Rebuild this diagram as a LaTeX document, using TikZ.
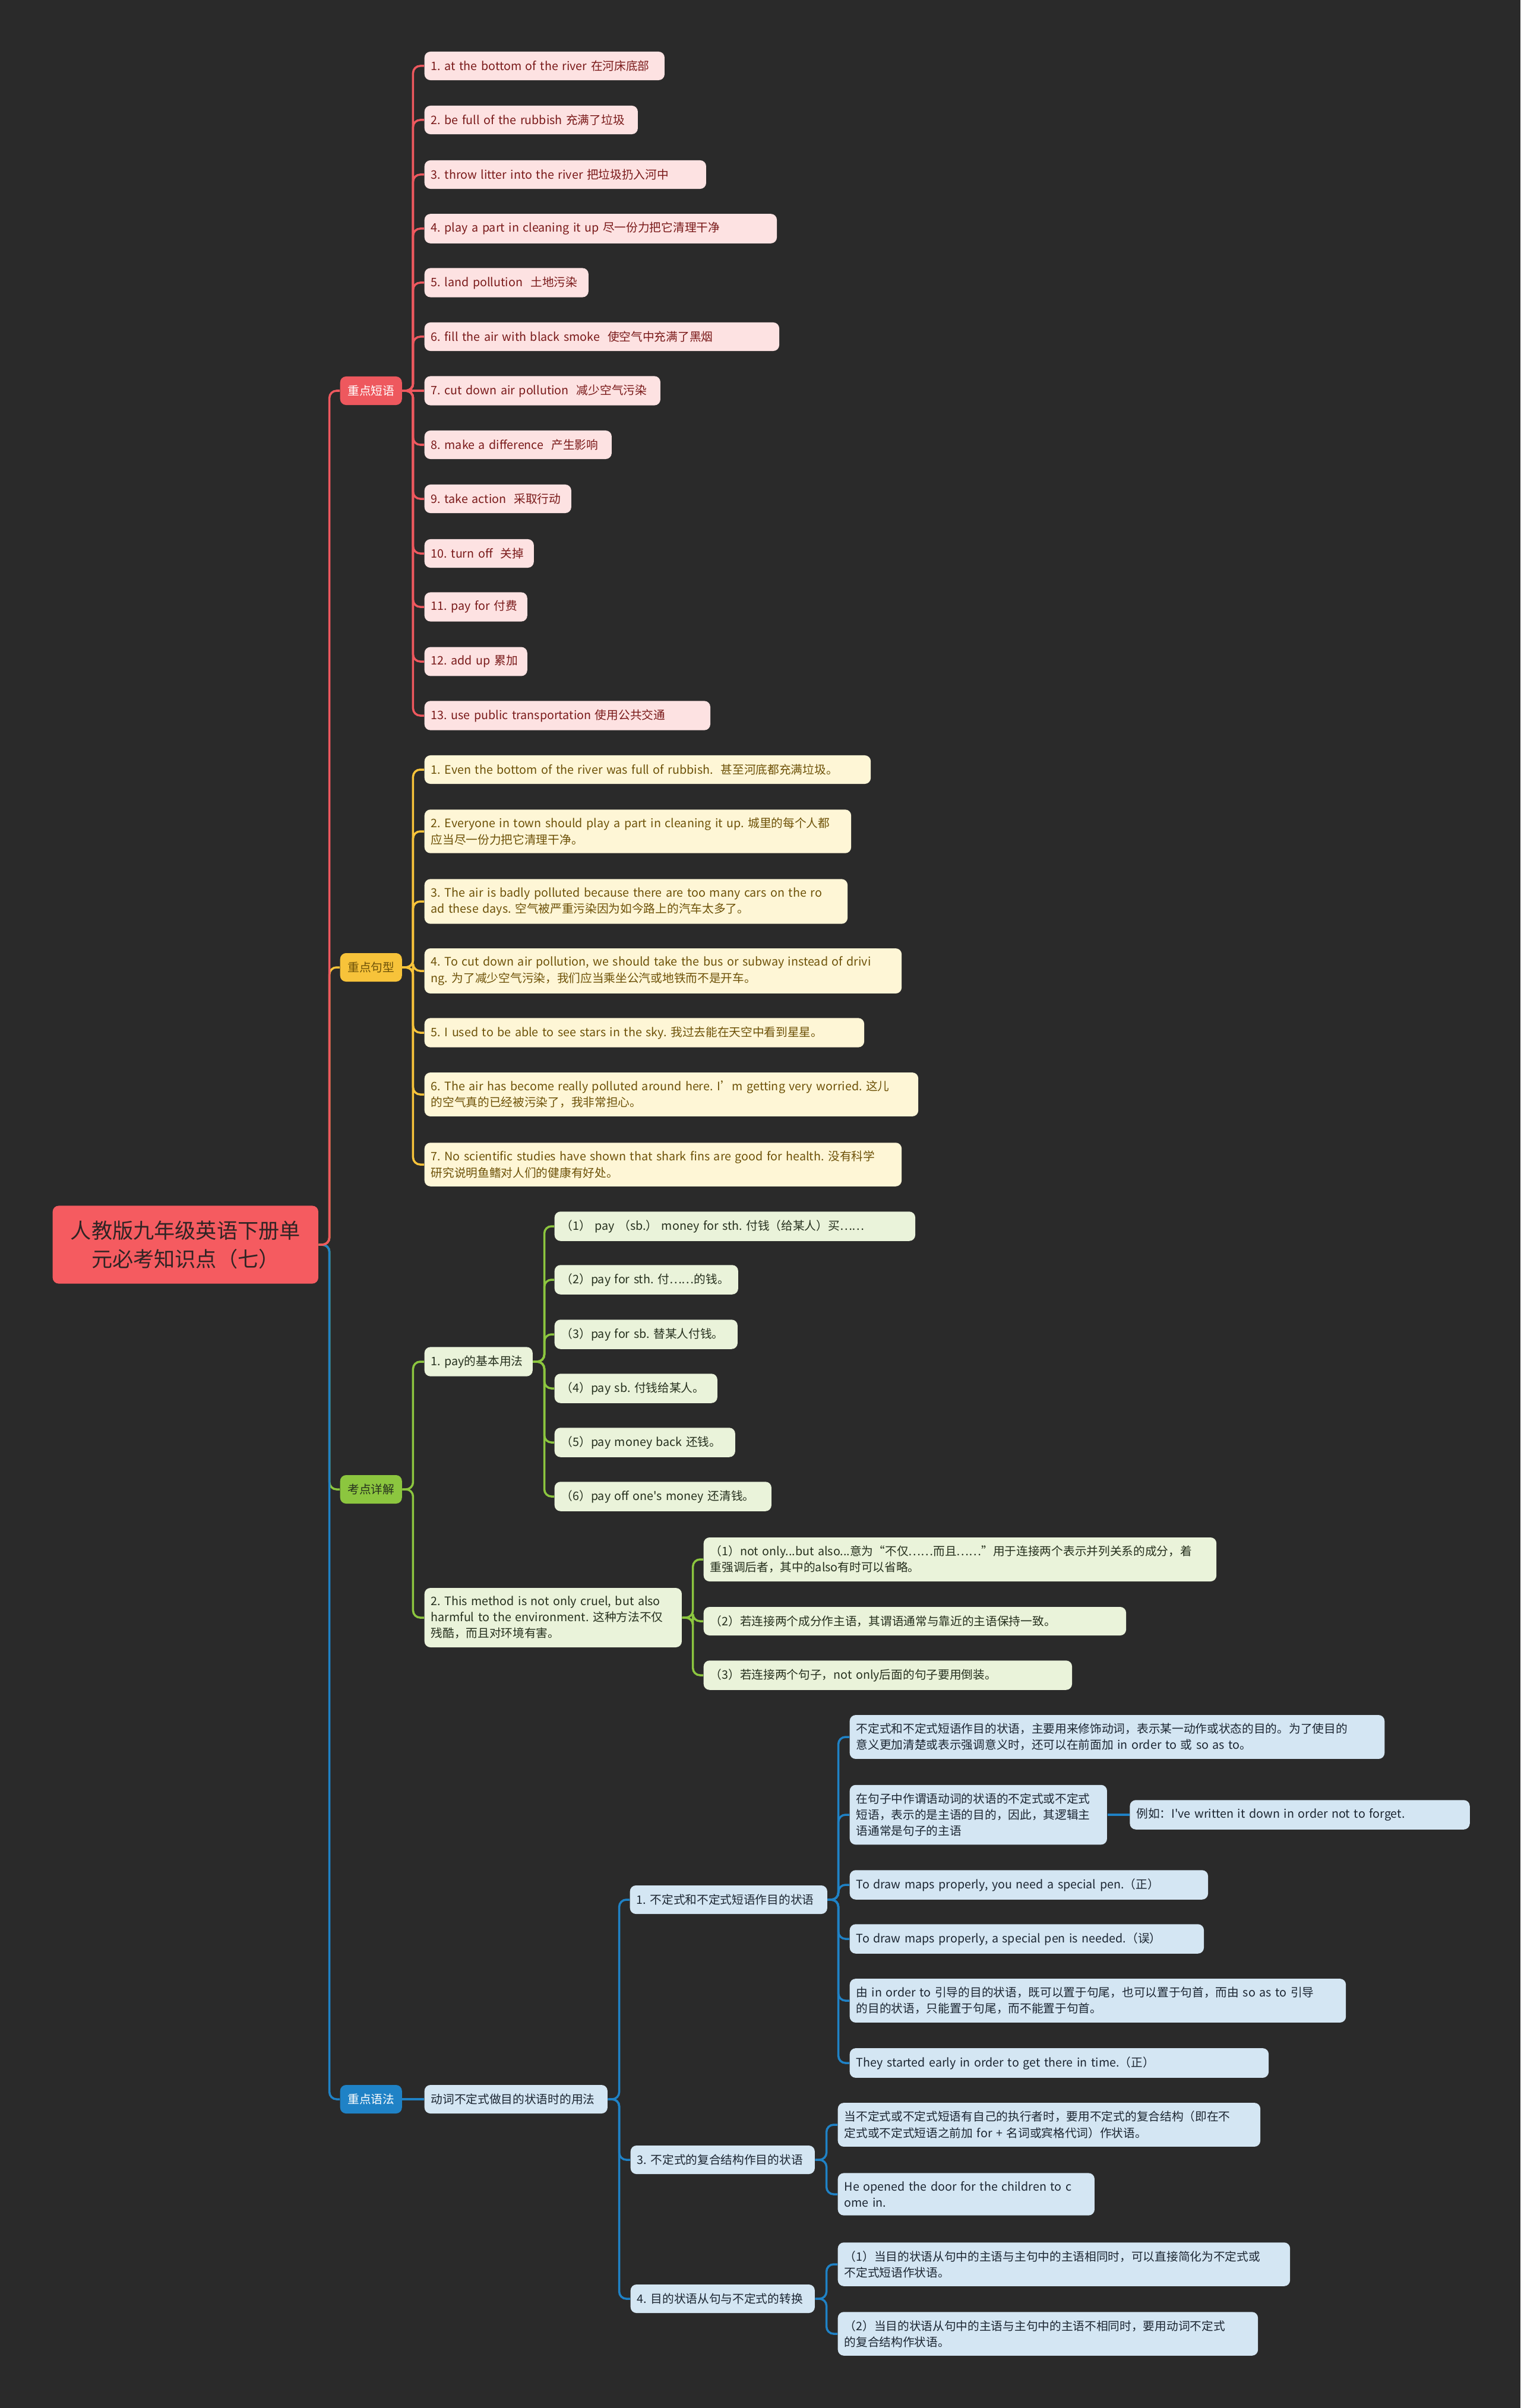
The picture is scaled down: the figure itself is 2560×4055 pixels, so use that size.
\documentclass[tikz,border=0pt]{standalone}
\usepackage{fontspec}
\setmainfont{Noto Sans CJK SC}
\newfontfamily\cjk{Noto Sans CJK SC}
\usepackage{tikz}
\usetikzlibrary{positioning}
\usepackage{xcolor}
\definecolor{bg}{RGB}{42,42,42}
\definecolor{rootred}{RGB}{245,91,96}
\definecolor{roottext}{RGB}{48,36,36}
\definecolor{phr}{RGB}{238,88,94}
\definecolor{sen}{RGB}{247,195,58}
\definecolor{pnt}{RGB}{140,198,63}
\definecolor{gram}{RGB}{31,130,198}
\definecolor{phrfill}{RGB}{253,226,226}
\definecolor{phrtext}{RGB}{122,26,26}
\definecolor{senfill}{RGB}{254,246,214}
\definecolor{sentext}{RGB}{110,82,8}
\definecolor{pntfill}{RGB}{234,243,218}
\definecolor{pnttext}{RGB}{38,48,30}
\definecolor{gramfill}{RGB}{212,230,243}
\definecolor{gramtext}{RGB}{28,38,50}

\begin{document}
\frenchspacing
\begin{tikzpicture}[x=0.01cm, y=-0.01cm,
  root/.style={fill=rootred, text=roottext, rounded corners=0.1cm, align=center,
    font=\cjk\fontsize{10}{13.7}\selectfont, minimum width=4.47cm, minimum height=1.31cm, anchor=west},
  topic/.style={rounded corners=0.1cm, font=\cjk\fontsize{5.6}{7.7}\selectfont,
    minimum width=1.04cm, minimum height=0.48cm, inner sep=0pt, anchor=west},
  leaf/.style={rounded corners=0.1cm, font=\cjk\fontsize{5.6}{7.7}\selectfont, align=left,
    inner xsep=0.11cm, inner ysep=0.14cm, minimum height=0.48cm, anchor=west},
  red/.style={leaf, fill=phrfill, text=phrtext},
  yel/.style={leaf, fill=senfill, text=sentext},
  grn/.style={leaf, fill=pntfill, text=pnttext},
  blu/.style={leaf, fill=gramfill, text=gramtext},
  link/.style={line width=0.035cm, rounded corners=0.12cm}]

\fill[bg] (0,0) rectangle (2560,4055);
\useasboundingbox (0,0) rectangle (2560,4055);

\node[root] (root) at (88,2096) {人教版九年级英语下册单\\元必考知识点（七）};

% branches
\node[topic, fill=phr, text=white] (phrases) at (572,658) {重点短语};
\node[topic, fill=sen, text=sentext] (sentences) at (572,1629) {重点句型};
\node[topic, fill=pnt, text=pnttext] (points) at (572,2508) {考点详解};
\node[topic, fill=gram, text=white] (grammar) at (572,3535) {重点语法};

% 重点短语
\node[red, text width=3.82cm] (ph1) at (714,111) {1. at the bottom of the river 在河床底部};
\node[red, text width=3.37cm] (ph2) at (714,202) {2. be full of the rubbish 充满了垃圾};
\node[red, text width=4.52cm] (ph3) at (714,294) {3. throw litter into the river 把垃圾扔入河中};
\node[red, text width=5.71cm] (ph4) at (714,385) {4. play a part in cleaning it up 尽一份力把它清理干净};
\node[red, text width=2.54cm] (ph5) at (714,476) {5. land pollution~~土地污染};
\node[red, text width=5.75cm] (ph6) at (714,567) {6. fill the air with black smoke~~使空气中充满了黑烟};
\node[red, text width=3.75cm] (ph7) at (714,658) {7. cut down air pollution~~减少空气污染};
\node[red, text width=2.93cm] (ph8) at (714,749) {8. make a difference~~产生影响};
\node[red, text width=2.25cm] (ph9) at (714,840) {9. take action~~采取行动};
\node[red, text width=1.62cm] (ph10) at (714,932) {10. turn off~~关掉};
\node[red, text width=1.51cm] (ph11) at (714,1022) {11. pay for 付费};
\node[red, text width=1.51cm] (ph12) at (714,1114) {12. add up 累加};
\node[red, text width=4.59cm] (ph13) at (714,1205) {13. use public transportation 使用公共交通};

% 重点句型
\node[yel, text width=7.29cm] (se1) at (714,1296) {1. Even the bottom of the river was full of rubbish.~~甚至河底都充满垃圾。};
\node[yel, text width=6.96cm] (se2) at (714,1400) {2. Everyone in town should play a part in cleaning it up. 城里的每个人都\\应当尽一份力把它清理干净。};
\node[yel, text width=6.90cm] (se3) at (714,1518) {3. The air is badly polluted because there are too many cars on the ro\\ad these days. 空气被严重污染因为如今路上的汽车太多了。};
\node[yel, text width=7.81cm] (se4) at (714,1635) {4. To cut down air pollution, we should take the bus or subway instead of drivi\\ng. 为了减少空气污染，我们应当乘坐公汽或地铁而不是开车。};
\node[yel, text width=7.18cm] (se5) at (714,1739) {5. I used to be able to see stars in the sky. 我过去能在天空中看到星星。};
\node[yel, text width=8.09cm] (se6) at (714,1843) {6. The air has become really polluted around here. I’m getting very worried. 这儿\\的空气真的已经被污染了，我非常担心。};
\node[yel, text width=7.81cm] (se7) at (714,1961) {7. No scientific studies have shown that shark fins are good for health. 没有科学\\研究说明鱼鳍对人们的健康有好处。};

% 考点详解
\node[grn, text width=1.60cm] (pay) at (714,2293) {1. pay的基本用法};
\node[grn, text width=5.85cm] (pay1) at (933,2065) {（1） pay （sb.） money for sth. 付钱（给某人）买……};
\node[grn, text width=2.87cm] (pay2) at (933,2155) {（2）pay for sth.~付……的钱。};
\node[grn, text width=2.86cm] (pay3) at (933,2247) {（3）pay for sb. 替某人付钱。};
\node[grn, text width=2.52cm] (pay4) at (933,2338) {（4）pay sb. 付钱给某人。};
\node[grn, text width=2.82cm] (pay5) at (933,2429) {（5）pay money back 还钱。};
\node[grn, text width=3.43cm] (pay6) at (933,2520) {（6）pay off one's money 还清钱。};
\node[grn, text width=4.11cm] (meth) at (714,2724) {2. This method is not only cruel, but also\\harmful to the environment. 这种方法不仅\\残酷，而且对环境有害。};
\node[grn, text width=8.41cm] (meth1) at (1184,2626) {（1）not only...but also...意为“不仅……而且……”用于连接两个表示并列关系的成分，着\\重强调后者，其中的also有时可以省略。};
\node[grn, text width=6.89cm] (meth2) at (1184,2730) {（2）若连接两个成分作主语，其谓语通常与靠近的主语保持一致。};
\node[grn, text width=5.98cm] (meth3) at (1184,2821) {（3）若连接两个句子，not only后面的句子要用倒装。};

% 重点语法
\node[blu, text width=2.86cm] (usage) at (714,3535) {动词不定式做目的状语时的用法};
\node[blu, text width=3.10cm] (inf) at (1060,3199) {1. 不定式和不定式短语作目的状语};
\node[blu, text width=8.78cm] (inf1) at (1430,2925) {不定式和不定式短语作目的状语，主要用来修饰动词，表示某一动作或状态的目的。为了使目的\\意义更加清楚或表示强调意义时，还可以在前面加 in order to 或 so as to。};
\node[blu, text width=4.11cm] (inf2) at (1430,3056) {在句子中作谓语动词的状语的不定式或不定式\\短语，表示的是主语的目的，因此，其逻辑主\\语通常是句子的主语};
\node[blu, text width=5.50cm, right=0.37cm of inf2] (ex) {例如：I've written it down in order not to forget.};
\node[blu, text width=5.81cm] (inf3) at (1430,3174) {To draw maps properly, you need a special pen.（正）};
\node[blu, text width=5.74cm] (inf4) at (1430,3265) {To draw maps properly, a special pen is needed.（误）};
\node[blu, text width=8.13cm] (inf5) at (1430,3369) {由 in order to 引导的目的状语，既可以置于句尾，也可以置于句首，而由 so as to 引导\\的目的状语，只能置于句尾，而不能置于句首。};
\node[blu, text width=6.83cm] (inf6) at (1430,3474) {They started early in order to get there in time.（正）};
\node[blu, text width=2.88cm] (comp) at (1061,3637) {3. 不定式的复合结构作目的状语};
\node[blu, text width=6.89cm] (comp1) at (1410,3578) {当不定式或不定式短语有自己的执行者时，要用不定式的复合结构（即在不\\定式或不定式短语之前加 for + 名词或宾格代词）作状语。};
\node[blu, text width=4.10cm] (comp2) at (1410,3695) {He opened the door for the children to c\\ome in.};
\node[blu, text width=2.88cm] (conv) at (1061,3871) {4. 目的状语从句与不定式的转换};
\node[blu, text width=7.39cm] (conv1) at (1410,3813) {（1）当目的状语从句中的主语与主句中的主语相同时，可以直接简化为不定式或\\不定式短语作状语。};
\node[blu, text width=6.85cm] (conv2) at (1410,3930) {（2）当目的状语从句中的主语与主句中的主语不相同时，要用动词不定式\\的复合结构作状语。};

% main links
\draw[link, pnt] (root.east) -- ++(18,0) |- (points.west);
\draw[link, gram] (root.east) -- ++(18,0) |- (grammar.west);
\draw[link, sen] (root.east) -- ++(18,0) |- (sentences.west);
\draw[link, phr] (root.east) -- ++(18,0) |- (phrases.west);

% 重点短语 links
\draw[link, phr] (phrases.east) -- ++(18,0) |- (ph1.west);
\draw[link, phr] (phrases.east) -- ++(18,0) |- (ph2.west);
\draw[link, phr] (phrases.east) -- ++(18,0) |- (ph3.west);
\draw[link, phr] (phrases.east) -- ++(18,0) |- (ph4.west);
\draw[link, phr] (phrases.east) -- ++(18,0) |- (ph5.west);
\draw[link, phr] (phrases.east) -- ++(18,0) |- (ph6.west);
\draw[link, phr] (phrases.east) -- (ph7.west);
\draw[link, phr] (phrases.east) -- ++(18,0) |- (ph8.west);
\draw[link, phr] (phrases.east) -- ++(18,0) |- (ph9.west);
\draw[link, phr] (phrases.east) -- ++(18,0) |- (ph10.west);
\draw[link, phr] (phrases.east) -- ++(18,0) |- (ph11.west);
\draw[link, phr] (phrases.east) -- ++(18,0) |- (ph12.west);
\draw[link, phr] (phrases.east) -- ++(18,0) |- (ph13.west);

% 重点句型 links
\draw[link, sen] (sentences.east) -- ++(18,0) |- (se1.west);
\draw[link, sen] (sentences.east) -- ++(18,0) |- (se2.west);
\draw[link, sen] (sentences.east) -- ++(18,0) |- (se3.west);
\draw[link, sen] (sentences.east) -- ++(18,0) |- (se4.west);
\draw[link, sen] (sentences.east) -- ++(18,0) |- (se5.west);
\draw[link, sen] (sentences.east) -- ++(18,0) |- (se6.west);
\draw[link, sen] (sentences.east) -- ++(18,0) |- (se7.west);

% 考点详解 links
\draw[link, pnt] (points.east) -- ++(18,0) |- (pay.west);
\draw[link, pnt] (points.east) -- ++(18,0) |- (meth.west);
\draw[link, pnt] (pay.east) -- ++(19,0) |- (pay1.west);
\draw[link, pnt] (pay.east) -- ++(19,0) |- (pay2.west);
\draw[link, pnt] (pay.east) -- ++(19,0) |- (pay3.west);
\draw[link, pnt] (pay.east) -- ++(19,0) |- (pay4.west);
\draw[link, pnt] (pay.east) -- ++(19,0) |- (pay5.west);
\draw[link, pnt] (pay.east) -- ++(19,0) |- (pay6.west);
\draw[link, pnt] (meth.east) -- ++(18,0) |- (meth1.west);
\draw[link, pnt] (meth.east) -- ++(18,0) |- (meth2.west);
\draw[link, pnt] (meth.east) -- ++(18,0) |- (meth3.west);

% 重点语法 links
\draw[link, gram] (grammar.east) -- (usage.west);
\draw[link, gram] (usage.east) -- ++(19,0) |- (inf.west);
\draw[link, gram] (usage.east) -- ++(19,0) |- (comp.west);
\draw[link, gram] (usage.east) -- ++(19,0) |- (conv.west);
\draw[link, gram] (inf.east) -- ++(18,0) |- (inf1.west);
\draw[link, gram] (inf.east) -- ++(18,0) |- (inf2.west);
\draw[link, gram] (inf.east) -- ++(18,0) |- (inf3.west);
\draw[link, gram] (inf.east) -- ++(18,0) |- (inf4.west);
\draw[link, gram] (inf.east) -- ++(18,0) |- (inf5.west);
\draw[link, gram] (inf.east) -- ++(18,0) |- (inf6.west);
\draw[link, gram] (inf2.east) -- (ex.west);
\draw[link, gram] (comp.east) -- ++(19,0) |- (comp1.west);
\draw[link, gram] (comp.east) -- ++(19,0) |- (comp2.west);
\draw[link, gram] (conv.east) -- ++(19,0) |- (conv1.west);
\draw[link, gram] (conv.east) -- ++(19,0) |- (conv2.west);
\end{tikzpicture}
\end{document}
